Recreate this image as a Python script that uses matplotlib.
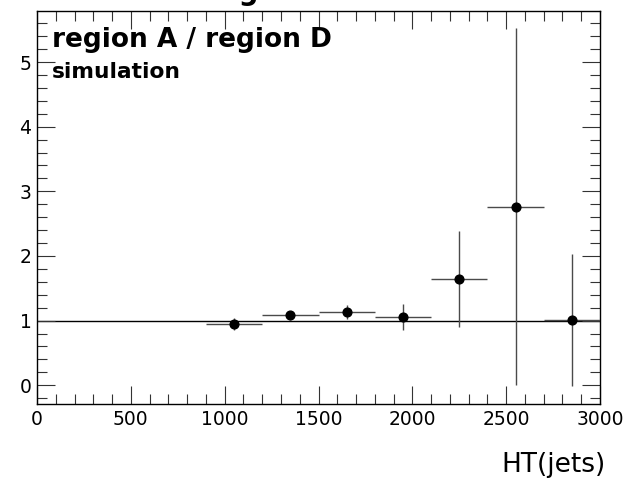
import matplotlib
matplotlib.use("Agg")
import matplotlib.pyplot as plt
from matplotlib.ticker import MultipleLocator

plt.rcParams['font.family'] = ['DejaVu Sans']

bin_lo = [900, 1200, 1500, 1800, 2100, 2400, 2700]
bin_hi = [1200, 1500, 1800, 2100, 2400, 2700, 3000]
ratio = [0.95, 1.08, 1.135, 1.05, 1.64, 2.76, 1.01]
ratio_err = [0.095, 0.07, 0.11, 0.2, 0.74, 2.76, 1.02]

centers = [(a + b) / 2 for a, b in zip(bin_lo, bin_hi)]
xerr = [(b - a) / 2 for a, b in zip(bin_lo, bin_hi)]

W, H = 638, 479
fig = plt.figure(figsize=(W / 100, H / 100), dpi=100)
ax = fig.add_axes([37 / W, 1 - 404 / H, (600 - 37) / W, (404 - 11) / H])

ax.axhline(1.0, color='black', lw=1.0, zorder=1)
ax.errorbar(centers, ratio, xerr=xerr, yerr=ratio_err, fmt='o', color='black',
            ecolor='#4a4a4a', elinewidth=1.0, markersize=6.3, capsize=0, zorder=3)

ax.set_xlim(0, 3000)
ax.set_ylim(-0.29, 5.79)
ax.xaxis.set_major_locator(MultipleLocator(500))
ax.xaxis.set_minor_locator(MultipleLocator(100))
ax.yaxis.set_major_locator(MultipleLocator(1))
ax.yaxis.set_minor_locator(MultipleLocator(0.2))
ax.tick_params(which='both', direction='in', top=True, right=True, labelsize=13.5,
               width=0.8, color='#333333')
ax.tick_params(which='major', length=13, pad=4)
ax.tick_params(which='minor', length=7)
for s in ax.spines.values():
    s.set_linewidth(1.0)

fig.text(52 / W, 1 - 46.7 / H, 'region A / region D', fontsize=19,
         fontweight='bold', va='baseline', ha='left')
fig.text(52 / W, 1 - 78.3 / H, 'simulation', fontsize=15.7,
         fontweight='bold', va='baseline', ha='left')

fig.text(606 / W, 1 - 471.7 / H, 'HT(jets)', fontsize=19, ha='right', va='baseline')
fig.text(207 / W, 1 + 0.5 / H, 'regions', fontsize=20, fontweight='bold',
         ha='left', va='baseline')

fig.savefig('out.png', dpi=100)
